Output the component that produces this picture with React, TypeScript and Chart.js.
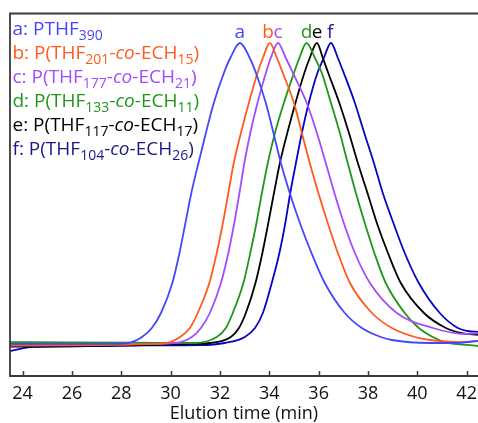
import React, { useEffect, useRef } from "react";
import { Chart, registerables } from "chart.js";

Chart.register(...registerables);

type Pt = [number, number];

// Elution time axis (min)
const timeMin = 23.49;
const timeMax = 42.46;
const timeTicks = [24, 26, 28, 30, 32, 34, 36, 38, 40, 42];
const axisTitle = "Elution time (min)";

// SEC traces, signal normalised to a peak height of 100: [time (min), signal]
const tracePTHF390: Pt[] = [
  [23.49, -0.3], [25.5, -0.3], [27.2, -0.3], [28.27, 0], [28.84, 2], [29.24, 5],
  [29.61, 10], [30.07, 20], [30.36, 30], [30.6, 40], [30.84, 50], [31.13, 60],
  [31.43, 70], [31.75, 80], [32.16, 90], [32.42, 95], [32.81, 100], [33.21, 95],
  [33.46, 90], [33.86, 80], [34.17, 70], [34.47, 60], [34.83, 50], [35.24, 40],
  [35.71, 30], [36.25, 20], [37.06, 10], [37.75, 5], [38.52, 2], [38.97, 1],
  [40.51, 0], [41.5, 0], [42.46, 0.7],
];
const traceTHF201ECH15: Pt[] = [
  [23.49, -0.9], [26.0, -0.8], [28.0, -0.6], [29.3, -0.3], [29.85, 0], [30.38, 2],
  [30.78, 5], [31.1, 10], [31.57, 20], [31.87, 30], [32.12, 40], [32.34, 50],
  [32.56, 60], [32.85, 70], [33.17, 80], [33.52, 90], [33.74, 95], [34.02, 100],
  [34.31, 95], [34.55, 90], [35.0, 80], [35.32, 70], [35.64, 60], [35.99, 50],
  [36.37, 40], [36.78, 30], [37.27, 20], [38.16, 10], [38.97, 5], [39.9, 2],
  [40.51, 1], [41.72, 0.3], [42.46, 0.6],
];
const traceTHF177ECH21: Pt[] = [
  [23.49, -0.5], [26.0, -0.5], [28.5, -0.4], [30.17, 0], [30.86, 2], [31.23, 5],
  [31.59, 10], [32.04, 20], [32.34, 30], [32.58, 40], [32.79, 50], [32.99, 60],
  [33.23, 70], [33.52, 80], [33.86, 90], [34.06, 95], [34.35, 100], [34.67, 95],
  [34.96, 90], [35.52, 80], [35.93, 70], [36.29, 60], [36.64, 50], [37.02, 40],
  [37.47, 30], [38.08, 20], [39.17, 10], [40.63, 5], [41.93, 3], [42.46, 3.2],
];
const traceTHF133ECH11: Pt[] = [
  [23.49, 0.3], [26.0, 0.2], [28.5, 0.1], [30.98, 0], [31.87, 2], [32.24, 5],
  [32.52, 10], [32.95, 20], [33.23, 30], [33.48, 40], [33.7, 50], [33.94, 60],
  [34.23, 70], [34.59, 80], [35.0, 90], [35.22, 95], [35.51, 100], [35.85, 95],
  [36.13, 90], [36.5, 80], [36.86, 70], [37.18, 60], [37.51, 50], [37.87, 40],
  [38.26, 30], [38.72, 20], [39.49, 10], [40.06, 5], [40.63, 2], [41.24, 0],
  [42.13, -0.7], [42.46, -1],
];
const traceTHF117ECH17: Pt[] = [
  [23.49, -1.2], [26.0, -1.1], [28.5, -0.8], [30.5, -0.4], [31.59, 0], [32.44, 2],
  [32.77, 5], [33.05, 10], [33.44, 20], [33.72, 30], [33.96, 40], [34.19, 50],
  [34.43, 60], [34.73, 70], [35.06, 80], [35.42, 90], [35.64, 95], [35.93, 100],
  [36.17, 95], [36.39, 90], [36.84, 80], [37.23, 70], [37.59, 60], [37.98, 50],
  [38.36, 40], [38.81, 30], [39.33, 20], [40.27, 10], [41.16, 5], [41.81, 3.3],
  [42.46, 2.7],
];
const traceTHF104ECH26: Pt[] = [
  [23.49, -2.7], [24.42, -1.3], [27.13, -1], [29.16, -0.8], [31.2, -0.7], [32.2, 0],
  [33.01, 2], [33.42, 5], [33.74, 10], [34.1, 20], [34.41, 30], [34.65, 40],
  [34.85, 50], [35.08, 60], [35.32, 70], [35.6, 80], [35.95, 90], [36.21, 95],
  [36.5, 100], [36.78, 95], [37.02, 90], [37.47, 80], [37.85, 70], [38.24, 60],
  [38.6, 50], [39.03, 40], [39.49, 30], [40.06, 20], [40.91, 10], [41.64, 5],
  [42.05, 4], [42.46, 3.7],
];

const traces = [
  tracePTHF390, traceTHF201ECH15, traceTHF177ECH21,
  traceTHF133ECH11, traceTHF117ECH17, traceTHF104ECH26,
];
const traceKeys = ["a", "b", "c", "d", "e", "f"];
const lineColors = ["#4646ff", "#ff5b1e", "#a24cff", "#1f971a", "#000000", "#0606c2"];
const textColors = ["#4646ff", "#ff5b1e", "#a24cff", "#1f971a", "#000000", "#1a1a86"];
// where each trace letter sits above its peak (min)
const peakLabelTimes = [32.8, 33.95, 34.36, 35.51, 35.94, 36.47];
const peakLabelLevel = 101.7;

type Seg = { t: string; sub?: boolean; it?: boolean };
const copolymer = (thf: string, ech: string): Seg[] => [
  { t: "P(THF" }, { t: thf, sub: true }, { t: "-" }, { t: "co", it: true },
  { t: "-ECH" }, { t: ech, sub: true }, { t: ")" },
];
const legendRows: Seg[][] = [
  [{ t: "PTHF" }, { t: "390", sub: true }],
  copolymer("201", "15"),
  copolymer("177", "21"),
  copolymer("133", "11"),
  copolymer("117", "17"),
  copolymer("104", "26"),
];

const FONT = '"Open Sans", "DejaVu Sans", sans-serif';

function drawRich(ctx: CanvasRenderingContext2D, segs: Seg[], x: number, y: number, color: string) {
  let cx = x;
  ctx.fillStyle = color;
  ctx.textBaseline = "alphabetic";
  ctx.textAlign = "left";
  for (const s of segs) {
    const size = s.sub ? 14 : 19;
    ctx.font = `${s.it ? "italic " : ""}${size}px ${FONT}`;
    ctx.fillText(s.t, cx, s.sub ? y + 4.5 : y);
    cx += ctx.measureText(s.t).width;
  }
}

const decorations = {
  id: "decorations",
  afterDatasetsDraw(chart: any) {
    const { ctx, chartArea, scales } = chart;
    const { left, right, top, bottom } = chartArea;
    const xs = scales.x;
    const ys = scales.y;
    ctx.save();

    // frame: left, top and bottom edges
    ctx.strokeStyle = "#3a3a3a";
    ctx.lineWidth = 1.8;
    ctx.beginPath();
    ctx.moveTo(right, top + 0.5);
    ctx.lineTo(left, top + 0.5);
    ctx.lineTo(left, bottom);
    ctx.lineTo(right, bottom);
    ctx.stroke();

    // inward tick marks
    ctx.lineWidth = 1.5;
    ctx.beginPath();
    for (const t of timeTicks) {
      const px = Math.round(xs.getPixelForValue(t)) + 0.5;
      ctx.moveTo(px, bottom);
      ctx.lineTo(px, bottom - 5);
    }
    ctx.stroke();

    // peak letters
    ctx.font = `19px ${FONT}`;
    ctx.textAlign = "center";
    ctx.textBaseline = "alphabetic";
    traceKeys.forEach((k, i) => {
      ctx.fillStyle = textColors[i];
      ctx.fillText(k, xs.getPixelForValue(peakLabelTimes[i]), ys.getPixelForValue(peakLabelLevel));
    });

    // sample legend
    legendRows.forEach((row, i) => {
      const segs: Seg[] = [{ t: traceKeys[i] + ": " }, ...row];
      drawRich(ctx, segs, left + 2.5, top + 22 + 24 * i, textColors[i]);
    });

    ctx.restore();
  },
};

export default function App() {
  const canvasRef = useRef<HTMLCanvasElement | null>(null);

  useEffect(() => {
    document.body.style.margin = "0";
    const canvas = canvasRef.current;
    if (!canvas) return;
    const chart = new Chart(canvas, {
      type: "line",
      data: {
        datasets: traces.map((pts, i) => ({
          label: traceKeys[i],
          data: pts.map(([x, y]) => ({ x, y })),
          borderColor: lineColors[i],
          borderWidth: 1.8,
          pointRadius: 0,
          fill: false,
          cubicInterpolationMode: "monotone" as const,
        })),
      },
      options: {
        responsive: false,
        animation: false,
        devicePixelRatio: 1,
        layout: { padding: { left: 10, top: 13, right: 0, bottom: 0 } },
        plugins: { legend: { display: false }, tooltip: { enabled: false } },
        scales: {
          x: {
            type: "linear",
            min: timeMin,
            max: timeMax,
            afterBuildTicks: (s: any) => {
              s.ticks = timeTicks.map((v) => ({ value: v }));
            },
            afterFit: (s: any) => {
              s.height = 47;
              s.paddingLeft = 0;
              s.paddingRight = 0;
            },
            grid: { display: false, drawTicks: false },
            border: { display: false },
            ticks: {
              padding: 7,
              color: "#111111",
              font: { size: 18, family: FONT },
              maxRotation: 0,
            },
            title: {
              display: true,
              text: axisTitle,
              color: "#111111",
              font: { size: 18, family: FONT, lineHeight: 1.0 },
              padding: 0,
            },
          },
          y: { display: false, min: -11, max: 110 },
        },
      },
      plugins: [decorations],
    });
    return () => chart.destroy();
  }, []);

  return <canvas ref={canvasRef} width={478} height={423} style={{ display: "block" }} />;
}
